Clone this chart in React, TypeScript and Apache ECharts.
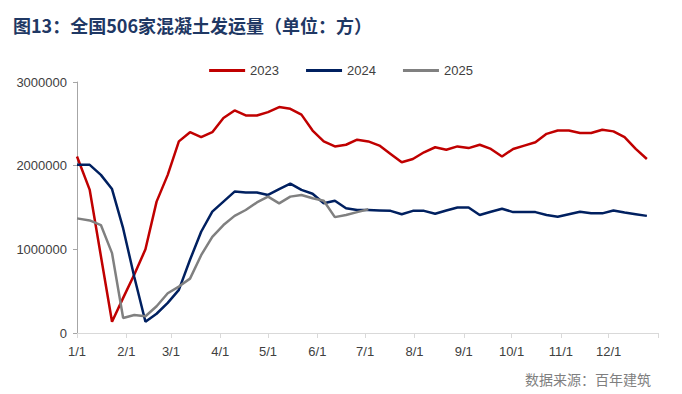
import React, { useEffect, useRef } from "react";
import * as echarts from "echarts";

// Day-of-year of each weekly observation
const weekDays = [0, 8, 15, 22, 29, 36, 43, 50, 57, 64, 71, 78, 85, 92, 99, 106, 113, 120, 127, 134, 141, 148, 155, 162, 169, 176, 183, 190, 197, 204, 211, 218, 225, 232, 239, 246, 253, 260, 267, 274, 281, 288, 295, 302, 309, 316, 323, 330, 337, 344, 351, 358];

const series2023 = [2110000, 1710000, 920000, 135000, 420000, 700000, 1000000, 1570000, 1890000, 2290000, 2400000, 2340000, 2400000, 2570000, 2660000, 2600000, 2600000, 2640000, 2700000, 2680000, 2610000, 2420000, 2290000, 2230000, 2250000, 2310000, 2290000, 2240000, 2140000, 2040000, 2080000, 2160000, 2220000, 2190000, 2230000, 2210000, 2250000, 2200000, 2110000, 2200000, 2240000, 2280000, 2380000, 2420000, 2420000, 2390000, 2390000, 2430000, 2410000, 2340000, 2200000, 2080000];

const series2024 = [2010000, 2010000, 1890000, 1720000, 1250000, 670000, 135000, 230000, 360000, 515000, 875000, 1210000, 1450000, 1570000, 1690000, 1680000, 1680000, 1650000, 1720000, 1785000, 1710000, 1665000, 1550000, 1580000, 1490000, 1470000, 1470000, 1465000, 1460000, 1420000, 1460000, 1460000, 1425000, 1465000, 1500000, 1500000, 1410000, 1450000, 1485000, 1445000, 1445000, 1445000, 1410000, 1390000, 1420000, 1450000, 1430000, 1430000, 1465000, 1440000, 1420000, 1400000];

const series2025 = [1370000, 1345000, 1290000, 955000, 180000, 215000, 200000, 320000, 475000, 555000, 650000, 930000, 1150000, 1290000, 1400000, 1470000, 1560000, 1630000, 1550000, 1630000, 1650000, 1610000, 1580000, 1385000, 1410000, 1445000, 1480000];

const monthStartDays = [0, 31, 59, 90, 120, 151, 181, 212, 243, 273, 304, 334];
const monthLabels = ["1/1", "2/1", "3/1", "4/1", "5/1", "6/1", "7/1", "8/1", "9/1", "10/1", "11/1", "12/1"];
const yearEndDay = 365;

const seriesNames = ["2023", "2024", "2025"];
const seriesColors = ["#C00000", "#002060", "#808080"];

const titleText = "图13：全国506家混凝土发运量（单位：方）";
const sourceText = "数据来源：百年建筑";

function pairs(values: number[]) {
  return values.map((v, i) => [weekDays[i], v]);
}

export default function App() {
  const ref = useRef<HTMLDivElement>(null);
  useEffect(() => {
    if (!ref.current) return;
    const chart = echarts.init(ref.current, null, { renderer: "svg" });
    const allSeries = [series2023, series2024, series2025];
    chart.setOption({
      animation: false,
      backgroundColor: "#ffffff",
      title: {
        text: titleText,
        left: 8,
        top: 11,
        textStyle: {
          color: "#1F3864",
          fontSize: 18,
          fontWeight: "bold",
          fontFamily: "Noto Sans CJK SC",
        },
      },
      legend: {
        top: 59,
        left: "center",
        itemWidth: 36,
        itemHeight: 3,
        itemGap: 27,
        icon: "rect",
        textStyle: { color: "#404040", fontSize: 13, fontFamily: "Liberation Sans" },
        data: seriesNames,
      },
      graphic: [
        {
          type: "text",
          right: 31,
          top: 372,
          style: {
            text: sourceText,
            fill: "#7f7f7f",
            fontSize: 14,
            fontFamily: "Noto Sans CJK SC",
          },
        },
      ],
      grid: { left: 77, right: 24, top: 82, bottom: 61, containLabel: false },
      xAxis: {
        type: "value",
        min: 0,
        max: yearEndDay,
        splitLine: { show: false },
        axisLine: { lineStyle: { color: "#d9d9d9", width: 1 } },
        axisTick: {
          show: true,
          length: 5,
          customValues: [...monthStartDays, yearEndDay],
          lineStyle: { color: "#d9d9d9" },
        },
        axisLabel: {
          customValues: monthStartDays,
          formatter: (v: number) => {
            const idx = monthStartDays.indexOf(Math.round(v));
            return idx >= 0 ? monthLabels[idx] : "";
          },
          color: "#404040",
          fontSize: 13,
          margin: 12,
          fontFamily: "Liberation Sans",
        },
      },
      yAxis: {
        type: "value",
        min: 0,
        max: 3000000,
        interval: 1000000,
        splitLine: { show: false },
        axisLine: { show: true, lineStyle: { color: "#a6a6a6", width: 1 } },
        axisTick: { show: true, length: 4, lineStyle: { color: "#a6a6a6" } },
        axisLabel: {
          color: "#404040",
          fontSize: 13,
          margin: 10,
          fontFamily: "Liberation Sans",
          formatter: (v: number) => String(v),
        },
      },
      series: seriesNames.map((name, k) => ({
        name,
        type: "line",
        data: pairs(allSeries[k]),
        showSymbol: false,
        symbol: "none",
        color: seriesColors[k],
        lineStyle: { width: 2.5, color: seriesColors[k] },
      })),
    });
    return () => chart.dispose();
  }, []);
  return (
    <div
      ref={ref}
      style={{ position: "fixed", left: 0, top: 0, width: 682, height: 394 }}
    />
  );
}
